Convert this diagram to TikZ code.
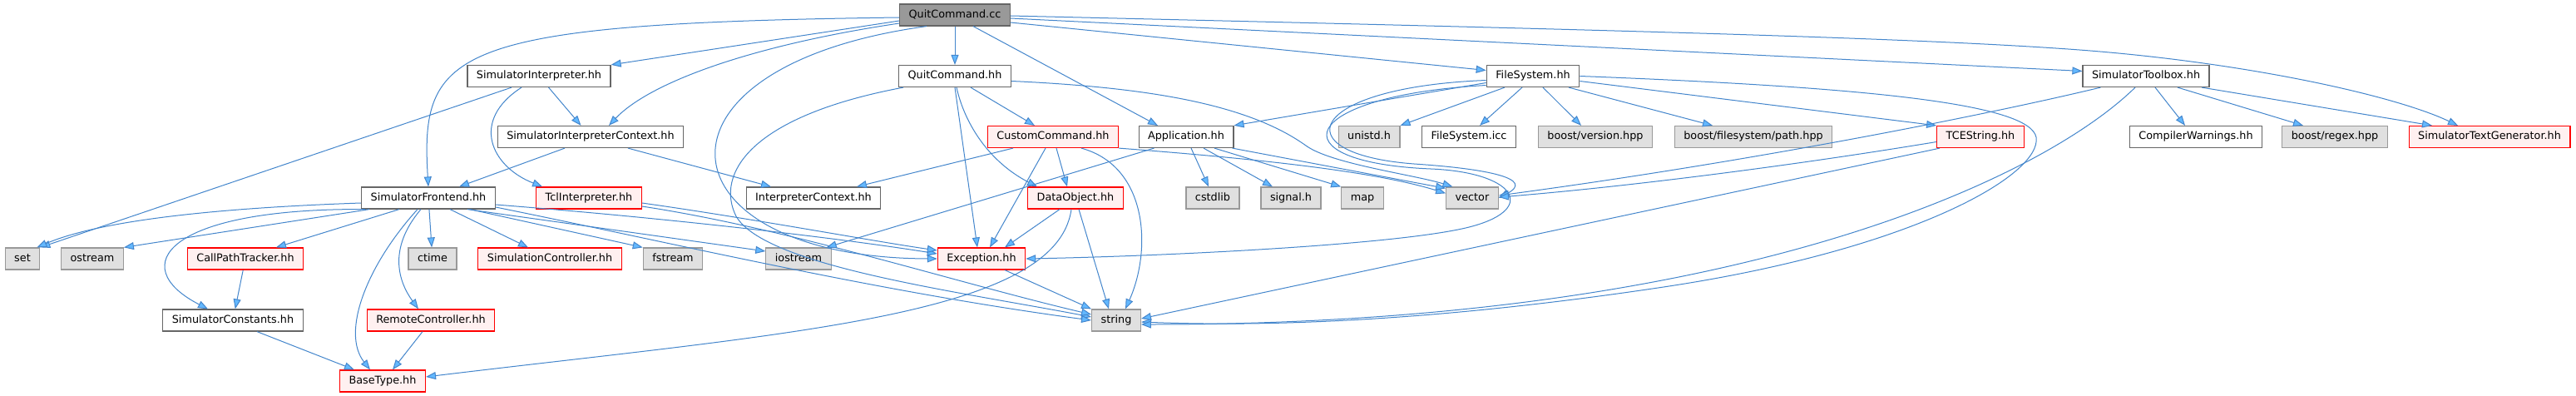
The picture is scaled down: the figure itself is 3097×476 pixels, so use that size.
\documentclass[tikz,border=0pt]{standalone}
\usepackage{fontspec}
\setmainfont{DejaVu Sans}
\usetikzlibrary{arrows.meta,calc}
\definecolor{edgeblue}{HTML}{4486CC}
\definecolor{tipblue}{HTML}{63B8FF}
\definecolor{boxgrey}{HTML}{666666}
\definecolor{sysgrey}{HTML}{999999}
\definecolor{sysfill}{HTML}{E0E0E0}
\definecolor{truncfill}{HTML}{FFF0F0}

\begin{document}
\begin{tikzpicture}[x=0.5pt, y=-0.5pt, font=\fontsize{6.4}{7.7}\selectfont]
        \tikzset{
            basenode/.style={
                rectangle,
                line width=0.6pt,
                minimum height=13pt,
                inner xsep=5.5pt,
                inner ysep=0pt,
                text height=4.7pt,
                text depth=1.4pt
            },
            srcnode/.style={basenode, draw=boxgrey, fill=sysgrey},
            filenode/.style={basenode, draw=boxgrey, fill=white},
            truncnode/.style={basenode, draw=red, fill=truncfill},
            sysnode/.style={basenode, draw=sysgrey, fill=sysfill},
            dep/.style={draw=edgeblue, line width=0.5pt,
                -{Triangle[length=6pt, width=4.5pt, fill=tipblue]}}
        }
        \useasboundingbox (0,0) rectangle (3097,476);
        \fill[white] (0,0) rectangle (3097,476);

        % files, row by row
        \node[srcnode] (qccc) at (1148,18) {QuitCommand.cc};

        \node[filenode] (siminterp) at (648,91.5) {SimulatorInterpreter.hh};
        \node[filenode] (qchh) at (1148,91.5) {QuitCommand.hh};
        \node[filenode] (filesys) at (1843,91.5) {FileSystem.hh};
        \node[filenode] (simtool) at (2580,91.5) {SimulatorToolbox.hh};

        \node[filenode] (simctx) at (710,164.5) {SimulatorInterpreterContext.hh};
        \node[truncnode] (custcmd) at (1266,164.5) {CustomCommand.hh};
        \node[filenode] (app) at (1426,164.5) {Application.hh};
        \node[sysnode] (unistd) at (1646,164.5) {unistd.h};
        \node[filenode] (fsicc) at (1766,164.5) {FileSystem.icc};
        \node[sysnode] (boostver) at (1918,164.5) {boost/version.hpp};
        \node[sysnode] (boostpath) at (2108,164.5) {boost/filesystem/path.hpp};
        \node[truncnode] (tcestr) at (2381,164.5) {TCEString.hh};
        \node[filenode] (compwarn) at (2640,164.5) {CompilerWarnings.hh};
        \node[sysnode] (boostregex) at (2807,164.5) {boost/regex.hpp};
        \node[truncnode] (textgen) at (2993,164.5) {SimulatorTextGenerator.hh};

        \node[filenode] (simfront) at (515,238) {SimulatorFrontend.hh};
        \node[truncnode] (tclinterp) at (708,238) {TclInterpreter.hh};
        \node[filenode] (interpctx) at (978,238) {InterpreterContext.hh};
        \node[truncnode] (dataobj) at (1293,238) {DataObject.hh};
        \node[sysnode] (cstdlib) at (1458,238) {cstdlib};
        \node[sysnode] (signalh) at (1552,238) {signal.h};
        \node[sysnode] (mapinc) at (1638,238) {map};
        \node[sysnode] (vectorinc) at (1770,238) {vector};

        \node[sysnode] (setinc) at (27,311) {set};
        \node[sysnode] (ostreaminc) at (111,311) {ostream};
        \node[truncnode] (callpath) at (295,311) {CallPathTracker.hh};
        \node[sysnode] (ctimeinc) at (520,311) {ctime};
        \node[truncnode] (simctrl) at (661,311) {SimulationController.hh};
        \node[sysnode] (fstreaminc) at (809,311) {fstream};
        \node[sysnode] (iostreaminc) at (960,311) {iostream};
        \node[truncnode] (except) at (1180,311) {Exception.hh};

        \node[filenode] (simconst) at (280,385) {SimulatorConstants.hh};
        \node[truncnode] (remotectrl) at (518,385) {RemoteController.hh};
        \node[sysnode] (stringinc) at (1342,385) {string};

        \node[truncnode] (basetype) at (460,458) {BaseType.hh};

        % QuitCommand.cc
        \draw[dep] (qccc) -- (qchh);
        \draw[dep] ($(qccc.west)+(0,7)$) -- (siminterp.north east);
        \draw[dep] ($(qccc.west)+(0,3)$) .. controls (540,28) and (505,60) .. (simfront.north);
        \draw[dep] ($(qccc.west)+(0,10)$) .. controls (900,55) and (780,100) .. ($(simctx.north)+(22,0)$);
        \draw[dep] ($(qccc.south)+(-34,0)$) .. controls (760,80) and (790,310) .. (except.west);
        \draw[dep] ($(qccc.south)+(22,0)$) -- ($(app.north)+(-34,0)$);
        \draw[dep] ($(qccc.east)+(0,9)$) -- ($(filesys.west)+(0,-7)$);
        \draw[dep] ($(qccc.east)+(0,4)$) -- ($(simtool.west)+(0,-6)$);
        \draw[dep] ($(qccc.east)+(0,1)$) .. controls (1900,35) and (2300,45) .. (2500,60)
            .. controls (2700,75) and (2880,115) .. ($(textgen.north)+(-38,0)$);

        % QuitCommand.hh
        \draw[dep] ($(qchh.south)+(19,0)$) -- ($(custcmd.north)+(-22,0)$);
        \draw[dep] (qchh.south) -- ($(except.north)+(-5,0)$);
        \draw[dep] ($(qchh.south)+(2,0)$) .. controls (1160,150) and (1190,195) .. ($(dataobj.north)+(-46,0)$);
        \draw[dep] ($(qchh.south west)+(6,0)$) .. controls (900,140) and (860,210) .. (885,260)
            .. controls (920,320) and (1150,350) .. ($(stringinc.west)+(0,-4)$);
        \draw[dep] ($(qchh.east)+(0,6)$) .. controls (1380,105) and (1500,125) .. (1570,175)
            .. controls (1600,197) and (1700,210) .. (vectorinc.150);

        % SimulatorInterpreter.hh
        \draw[dep] (siminterp) -- (simctx);
        \draw[dep] ($(siminterp.south)+(-21,0)$) .. controls (565,145) and (590,200) .. ($(tclinterp.north west)+(8,0)$);
        \draw[dep] ($(siminterp.south)+(-33,0)$) -- (setinc.north east);

        % SimulatorInterpreterContext.hh
        \draw[dep] ($(simctx.south)+(-31,0)$) -- ($(simfront.north)+(37,0)$);
        \draw[dep] ($(simctx.south)+(45,0)$) -- ($(interpctx.north)+(-51,0)$);

        % SimulatorFrontend.hh
        \draw[dep] ($(simfront.west)+(0,6)$) .. controls (260,250) and (120,265) .. ($(setinc.north east)+(-4,0)$);
        \draw[dep] ($(simfront.south west)+(10,0)$) -- (ostreaminc.north east);
        \draw[dep] ($(simfront.south)+(-35,0)$) -- ($(callpath.north)+(37,0)$);
        \draw[dep] ($(simfront.south west)+(5,0)$) .. controls (200,250) and (150,320) .. ($(simconst.north)+(-30,0)$);
        \draw[dep] (simfront) -- (ctimeinc);
        \draw[dep] ($(simfront.south)+(26,0)$) -- ($(simctrl.north)+(-26,0)$);
        \draw[dep] ($(simfront.south east)+(-31,0)$) -- (fstreaminc.north west);
        \draw[dep] ($(simfront.south east)+(-34,0)$) -- ($(iostreaminc.west)+(0,-9)$);
        \draw[dep] ($(simfront.south)+(-13,0)$) .. controls (440,320) and (410,400) .. ($(basetype.north)+(-15,0)$);
        \draw[dep] ($(simfront.south)+(-9,0)$) .. controls (465,300) and (480,340) .. ($(remotectrl.north)+(-15,0)$);
        \draw[dep] ($(simfront.east)+(0,8)$) .. controls (800,262) and (1000,285) .. ($(except.west)+(0,-6)$);
        \draw[dep] ($(simfront.east)+(0,11)$) .. controls (800,290) and (1050,350) .. (stringinc.west);

        % TclInterpreter.hh
        \draw[dep] ($(tclinterp.east)+(0,6)$) .. controls (900,262) and (1050,290) .. ($(except.west)+(0,-10)$);
        \draw[dep] ($(tclinterp.east)+(0,10)$) .. controls (950,275) and (1150,340) .. ($(stringinc.west)+(0,-7)$);

        % lower left
        \draw[dep] (callpath) -- (simconst);
        \draw[dep] ($(simconst.south)+(29,0)$) -- ($(basetype.north)+(-34,0)$);
        \draw[dep] ($(remotectrl.south)+(-10,0)$) -- ($(basetype.north)+(12,0)$);

        % CustomCommand.hh
        \draw[dep] ($(custcmd.south)+(-48,0)$) -- ($(interpctx.north)+(52,0)$);
        \draw[dep] ($(custcmd.south)+(4,0)$) -- ($(dataobj.north)+(-10,0)$);
        \draw[dep] ($(custcmd.south)+(-9,0)$) -- ($(except.north)+(10,0)$);
        \draw[dep] ($(custcmd.south)+(34,0)$) .. controls (1380,200) and (1385,300) .. ($(stringinc.north)+(11,0)$);
        \draw[dep] (custcmd.south east) .. controls (1500,190) and (1650,205) .. (vectorinc.170);

        % DataObject.hh
        \draw[dep] ($(dataobj.south)+(-19,0)$) -- ($(except.north)+(28,0)$);
        \draw[dep] ($(dataobj.south)+(4,0)$) -- ($(stringinc.north)+(-9,0)$);
        \draw[dep] ($(dataobj.south)+(-5,0)$) .. controls (1270,380) and (950,400) .. ($(basetype.east)+(0,-5)$);

        % Exception.hh
        \draw[dep] ($(except.south)+(28,0)$) -- (stringinc.north west);

        % Application.hh
        \draw[dep] ($(app.south)+(6,0)$) -- ($(cstdlib.north)+(-5,0)$);
        \draw[dep] ($(app.south)+(21,0)$) -- ($(signalh.north)+(-22,0)$);
        \draw[dep] ($(app.south)+(34,0)$) -- (mapinc.north west);
        \draw[dep] ($(app.south east)+(-2,0)$) -- (vectorinc.160);
        \draw[dep] ($(app.south west)+(19,0)$) -- ($(iostreaminc.north east)+(-6,0)$);

        % FileSystem.hh
        \draw[dep] ($(filesys.south)+(-34,0)$) -- (unistd.north east);
        \draw[dep] ($(filesys.south)+(-13,0)$) -- ($(fsicc.north)+(13,0)$);
        \draw[dep] ($(filesys.south)+(12,0)$) -- ($(boostver.north)+(-17,0)$);
        \draw[dep] ($(filesys.south)+(43,0)$) -- ($(boostpath.north)+(-49,0)$);
        \draw[dep] ($(filesys.east)+(0,6)$) -- (tcestr.north west);
        \draw[dep] ($(filesys.west)+(0,8)$) -- (app.north east);
        \draw[dep] ($(filesys.west)+(0,5)$) .. controls (1570,105) and (1540,185) .. (1700,197)
            .. controls (1790,203) and (1845,215) .. (vectorinc.east);
        \draw[dep] ($(filesys.west)+(0,11)$) .. controls (1560,115) and (1530,195) .. (1720,203)
            .. controls (1820,207) and (1850,250) .. (1770,272)
            .. controls (1690,294) and (1400,308) .. (except.east);
        \draw[dep] (filesys.east) .. controls (2250,105) and (2440,125) .. (2448,165)
            .. controls (2455,210) and (2300,300) .. (2000,345)
            .. controls (1700,390) and (1500,392) .. ($(stringinc.east)+(0,2)$);

        % SimulatorToolbox.hh
        \draw[dep] ($(simtool.south)+(11,0)$) -- ($(compwarn.north)+(-13,0)$);
        \draw[dep] ($(simtool.south)+(38,0)$) -- ($(boostregex.north)+(-38,0)$);
        \draw[dep] ($(simtool.south)+(67,0)$) -- ($(textgen.north)+(-69,0)$);
        \draw[dep] ($(simtool.south west)+(22,0)$) .. controls (2380,140) and (2100,195) .. ($(vectorinc.east)+(0,-3)$);
        \draw[dep] ($(simtool.south)+(-13,0)$) .. controls (2460,210) and (2100,390) .. ($(stringinc.east)+(0,5)$);

        % TCEString.hh
        \draw[dep] ($(tcestr.west)+(0,6)$) .. controls (2150,200) and (1950,225) .. ($(vectorinc.east)+(0,-1)$);
        \draw[dep] ($(tcestr.south west)+(4,0)$) -- ($(stringinc.east)+(0,-2)$);
\end{tikzpicture}
\end{document}
